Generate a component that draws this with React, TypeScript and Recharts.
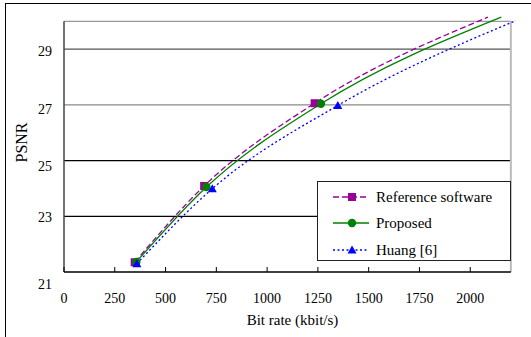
import React from 'react';
import { LineChart, Line, XAxis, YAxis, ReferenceLine, Legend, Label } from 'recharts';

// ---- data ----
const rateTicks = [0, 250, 500, 750, 1000, 1250, 1500, 1750, 2000];
const psnrTicks = [21, 23, 25, 27, 29];
const gridPsnr = [23, 25, 27, 29];

const refRate = [348, 690, 1234, 2087];
const refPsnr = [21.35, 24.09, 27.06, 30.15];

const propRate = [356, 701, 1265, 2153];
const propPsnr = [21.36, 24.05, 27.04, 30.15];

const huangRate = [359, 730, 1348, 2225];
const huangPsnr = [21.3, 23.99, 26.98, 30.03];

const seriesNames = ['Reference software', 'Proposed', 'Huang [6]'];

// plot frame (axis range shown inside the box)
const X_MIN = 0;
const X_MAX = 2200;
const Y_MIN = 21;
const Y_MAX = 30;

const toPoints = (xs: number[], ys: number[]) => xs.map((x, i) => ({ rate: x, psnr: ys[i] }));

const FONT = '"Liberation Serif", "Times New Roman", Times, serif';

type Shape = 'square' | 'circle' | 'triangle';

const series = [
  { name: seriesNames[0], data: toPoints(refRate, refPsnr), color: '#990099', dash: '6 3', shape: 'square' as Shape },
  { name: seriesNames[1], data: toPoints(propRate, propPsnr), color: '#008000', dash: undefined, shape: 'circle' as Shape },
  { name: seriesNames[2], data: toPoints(huangRate, huangPsnr), color: '#0000ff', dash: '2 2.5', shape: 'triangle' as Shape },
];

const gridStroke: Record<number, string> = { 23: '#000', 25: '#000', 27: '#8a8a8a', 29: '#555' };
const yLabelShift: Record<number, number> = { 21: 12, 23: 1, 25: 5, 27: 4, 29: 2 };

function Marker({ shape, cx, cy, color }: { shape: Shape; cx: number; cy: number; color: string }) {
  if (shape === 'square') return <rect x={cx - 4} y={cy - 4} width={8} height={8} fill={color} />;
  if (shape === 'circle') return <circle cx={cx} cy={cy} r={4.2} fill={color} />;
  return <polygon points={`${cx},${cy - 4.5} ${cx + 4.5},${cy + 3.5} ${cx - 4.5},${cy + 3.5}`} fill={color} />;
}

const makeDot = (shape: Shape, color: string) => (props: any) => {
  const { cx, cy, payload, index } = props;
  if (cx == null || cy == null || payload.rate > X_MAX || payload.psnr > Y_MAX) return <g key={`d${index}`} />;
  return (
    <g key={`d${index}`}>
      <Marker shape={shape} cx={cx} cy={cy} color={color} />
    </g>
  );
};

const renderYTick = (props: any) => {
  const { x, y, payload } = props;
  const v = payload.value as number;
  return (
    <text x={x} y={y + (yLabelShift[v] ?? 0)} dy="0.355em" textAnchor="end" fill="#000" fontSize={14} fontFamily={FONT}>
      {v}
    </text>
  );
};

const LegendBox = () => (
  <div
    style={{
      width: 194,
      height: 80,
      border: '1px solid #222',
      background: '#fff',
      fontFamily: FONT,
      fontSize: 15,
      boxSizing: 'border-box',
      position: 'relative',
    }}
  >
    {series.map((s, i) => (
      <div
        key={s.name}
        style={{ position: 'absolute', left: 0, top: 4 + i * 26.3, height: 22, display: 'flex', alignItems: 'center' }}
      >
        <svg width={58} height={22} style={{ display: 'block' }}>
          <line x1={15} x2={51} y1={11} y2={11} stroke={s.color} strokeWidth={1.3} strokeDasharray={s.dash} />
          <Marker shape={s.shape} cx={34} cy={11} color={s.color} />
        </svg>
        <span style={{ lineHeight: '22px', color: '#000', whiteSpace: 'nowrap' }}>{s.name}</span>
      </div>
    ))}
  </div>
);

export default function App() {
  return (
    <div style={{ position: 'absolute', left: 0, top: 0, width: 531, height: 337, background: '#fff', overflow: 'hidden' }}>
      <div
        style={{
          position: 'absolute',
          left: 5,
          top: 3,
          right: -2,
          bottom: -2,
          borderTop: '1px solid #000',
          borderLeft: '1px solid #000',
        }}
      />
      <div style={{ position: 'absolute', left: 0, top: 0 }}>
        <LineChart width={531} height={337} margin={{ top: 13, right: 10, bottom: 0, left: 0 }}>
          <XAxis
            type="number"
            dataKey="rate"
            domain={[X_MIN, 2250]}
            ticks={rateTicks}
            interval={0}
            axisLine={false}
            tickSize={-5}
            tickMargin={26}
            tickLine={{ stroke: '#000', strokeWidth: 1 }}
            tick={{ fill: '#000', fontSize: 14, fontFamily: FONT }}
            height={65}
          >
            <Label
              value="Bit rate (kbit/s)"
              position="insideBottom"
              offset={12}
              style={{ fontSize: 15, fontFamily: FONT, fill: '#000' }}
            />
          </XAxis>
          <YAxis
            type="number"
            domain={[Y_MIN, 30.3]}
            ticks={psnrTicks}
            interval={0}
            axisLine={false}
            tickLine={false}
            tickSize={0}
            tickMargin={12}
            width={64}
            tick={renderYTick}
          >
            <Label
              value="PSNR"
              angle={-90}
              position="insideLeft"
              offset={21}
              style={{ textAnchor: 'middle', fontSize: 16, fontFamily: FONT, fill: '#000' }}
            />
          </YAxis>

          {gridPsnr.map((v) => (
            <ReferenceLine
              key={`g${v}`}
              segment={[{ x: X_MIN, y: v }, { x: X_MAX, y: v }]}
              stroke={gridStroke[v]}
              strokeWidth={1.3}
            />
          ))}
          <ReferenceLine segment={[{ x: X_MIN, y: Y_MAX }, { x: X_MAX, y: Y_MAX }]} stroke="#999" strokeWidth={1.3} />
          <ReferenceLine segment={[{ x: X_MAX, y: Y_MIN }, { x: X_MAX, y: Y_MAX }]} stroke="#bbb" strokeWidth={2} />
          <ReferenceLine segment={[{ x: X_MIN, y: Y_MIN }, { x: X_MIN, y: Y_MAX }]} stroke="#444" strokeWidth={1.5} />
          <ReferenceLine segment={[{ x: X_MIN, y: Y_MIN }, { x: X_MAX, y: Y_MIN }]} stroke="#000" strokeWidth={1.6} />

          {series.map((s) => (
            <Line
              key={s.name}
              name={s.name}
              data={s.data}
              dataKey="psnr"
              type="monotone"
              stroke={s.color}
              strokeWidth={1.3}
              strokeDasharray={s.dash}
              dot={makeDot(s.shape, s.color)}
              activeDot={false}
              isAnimationActive={false}
            />
          ))}

          <Legend
            layout="vertical"
            align="center"
            verticalAlign="middle"
            content={() => <LegendBox />}
            wrapperStyle={{ position: 'absolute', left: 317, top: 181, width: 194, height: 80, margin: 0, padding: 0 }}
          />
        </LineChart>
      </div>
    </div>
  );
}
